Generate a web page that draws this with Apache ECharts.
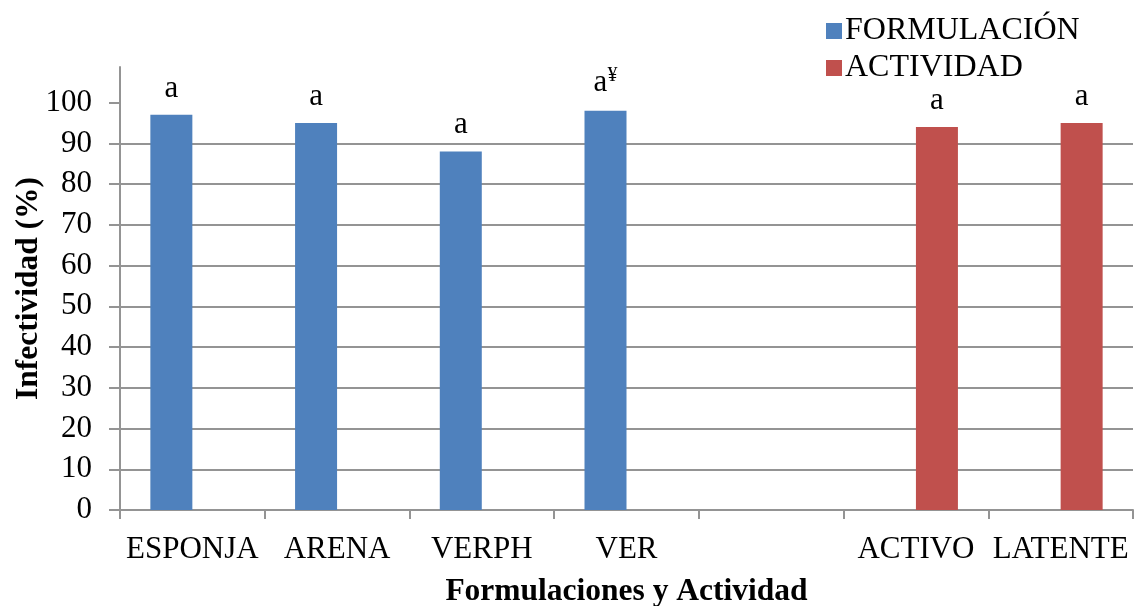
<!DOCTYPE html>
<html>
<head>
<meta charset="utf-8">
<title>Infectividad</title>
<script src="https://cdn.jsdelivr.net/npm/echarts@6/dist/echarts.min.js"></script>
<style>
  html, body { margin: 0; padding: 0; background: #ffffff; }
  #chart { width: 1136px; height: 606px; }
</style>
</head>
<body>
<div id="chart"></div>
<script>
// Categories on the x axis (the fifth slot is an empty spacer)
const categories = ['ESPONJA', 'ARENA', 'VERPH', 'VER', '', 'ACTIVO', 'LATENTE'];

// Infectividad (%) per series
const formulacion = [97, 95, 88, 98, null, null, null];
const actividad   = [null, null, null, null, null, 94, 95];

// Significance letters shown above each bar (second part is a superscript mark)
const letrasFormulacion = [['a', ''], ['a', ''], ['a', ''], ['a', '¥'], ['', ''], ['', ''], ['', '']];
const letrasActividad   = [['', ''], ['', ''], ['', ''], ['', ''], ['', ''], ['a', ''], ['a', '']];

// Y axis tick labels
const yTicks = [0, 10, 20, 30, 40, 50, 60, 70, 80, 90, 100];

const FONT = '"Liberation Serif", "Times New Roman", serif';
const GRID_COLOR = '#949494';
const FS = 31;

function letterLabel(letters) {
  return {
    show: true,
    position: 'top',
    distance: 11,
    fontFamily: FONT,
    fontSize: FS,
    color: '#000',
    formatter: p => {
      const [main, sup] = letters[p.dataIndex];
      return sup ? '{n|' + main + '}{s|' + sup + '}' : main;
    },
    rich: {
      n: { fontFamily: FONT, fontSize: FS, color: '#000' },
      s: { fontFamily: FONT, fontSize: 20, color: '#000', verticalAlign: 'top', padding: [0, 0, 14, 0] }
    }
  };
}

const chart = echarts.init(document.getElementById('chart'));

chart.setOption({
  animation: false,
  textStyle: { fontFamily: FONT, color: '#000' },
  legend: {
    orient: 'vertical',
    left: 821,
    top: 10,
    itemWidth: 16,
    itemHeight: 16,
    itemGap: 5,
    icon: 'rect',
    textStyle: { fontFamily: FONT, fontSize: 32, color: '#000', lineHeight: 32, padding: [0, 0, 0, -2] },
    data: ['FORMULACIÓN', 'ACTIVIDAD']
  },
  grid: { left: 120, right: 3, top: 67, bottom: 96, containLabel: false, outerBoundsMode: 'none' },
  xAxis: {
    type: 'category',
    data: categories,
    name: 'Formulaciones y Actividad',
    nameLocation: 'middle',
    nameGap: 66,
    nameMoveOverlap: false,
    nameTextStyle: { fontFamily: FONT, fontSize: 31.5, fontWeight: 'bold', color: '#000' },
    axisLine: { lineStyle: { color: GRID_COLOR, width: 2 } },
    axisTick: { show: true, alignWithLabel: false, interval: 0, length: 9, lineStyle: { color: GRID_COLOR, width: 2 } },
    axisLabel: { interval: 0, margin: 24, fontFamily: FONT, fontSize: FS, color: '#000' },
    splitLine: { show: false }
  },
  yAxis: {
    type: 'value',
    min: 0,
    max: 108.75,
    interval: 10,
    name: 'Infectividad (%)',
    nameLocation: 'middle',
    nameRotate: 90,
    nameGap: 75,
    nameMoveOverlap: false,
    nameTextStyle: { fontFamily: FONT, fontSize: 31.5, fontWeight: 'bold', color: '#000' },
    axisLine: { show: true, lineStyle: { color: GRID_COLOR, width: 2 } },
    axisTick: { show: true, length: 11, customValues: yTicks, lineStyle: { color: GRID_COLOR, width: 2 } },
    axisLabel: { margin: 28, customValues: yTicks, fontFamily: FONT, fontSize: FS, color: '#000' },
    splitLine: { show: true, showMaxLine: false, lineStyle: { color: GRID_COLOR, width: 2 } }
  },
  series: [
    {
      name: 'FORMULACIÓN',
      type: 'bar',
      data: formulacion,
      barWidth: 42,
      barGap: '0%',
      itemStyle: { color: '#4F81BD' },
      label: letterLabel(letrasFormulacion)
    },
    {
      name: 'ACTIVIDAD',
      type: 'bar',
      data: actividad,
      barWidth: 42,
      barGap: '0%',
      itemStyle: { color: '#C0504D' },
      label: letterLabel(letrasActividad)
    }
  ]
});
</script>
</body>
</html>
